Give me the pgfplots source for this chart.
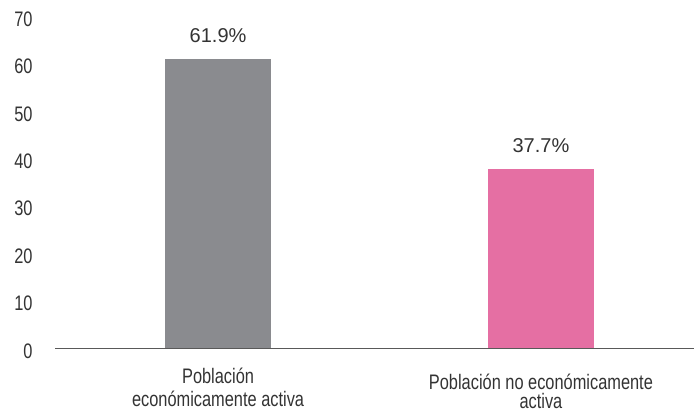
\documentclass[border=0pt]{standalone}
\usepackage{fontspec}
\setmainfont{Liberation Sans}
\newfontfamily\condensed[FakeStretch=0.78]{Liberation Sans}
\usepackage{pgfplots}
\pgfplotsset{compat=1.18}
\definecolor{bargray}{HTML}{8A8B8F}
\definecolor{barpink}{HTML}{E56FA3}
\definecolor{txt}{HTML}{333333}
\begin{document}
\begin{tikzpicture}
\path[use as bounding box] (0,0) rectangle (694bp,412bp);
\begin{axis}[
  at={(55bp,64bp)}, anchor=south west,
  scale only axis, width=639bp, height=332bp,
  xmin=-0.505, xmax=1.474, ymin=0, ymax=70,
  axis x line=bottom, axis y line=left,
  x axis line style={draw=black!65, line width=1bp, -},
  y axis line style={draw=none},
  ytick={0,10,...,70},
  xtick={0},
  xticklabels={Población\\económicamente activa},
  extra x ticks={1},
  extra x tick labels={Población no económicamente\\activa},
  extra x tick style={xticklabel style={yshift=-6bp, font=\fontsize{21bp}{19bp}\selectfont\condensed}},
  major tick length=0pt,
  ticklabel style={font=\fontsize{21bp}{23.5bp}\selectfont\condensed, text=txt},
  yticklabel style={xshift=-19bp, yshift=-3bp},
  xticklabel style={align=center, anchor=north, inner sep=0pt, yshift=-19.5bp},
  /pgf/number format/assume math mode=true,
  ybar, bar width=106bp, bar shift=0pt,
  point meta=explicit symbolic,
  nodes near coords,
  every node near coord/.append style={font=\fontsize{20bp}{24bp}\selectfont, text=txt, anchor=base, inner sep=0pt, yshift=17bp},
  clip=false,
]
\addplot[fill=bargray, draw=none] coordinates {(0,60.9) [61.9\%]};
\addplot[fill=barpink, draw=none] coordinates {(1,37.7) [37.7\%]};
\end{axis}
\end{tikzpicture}
\end{document}
